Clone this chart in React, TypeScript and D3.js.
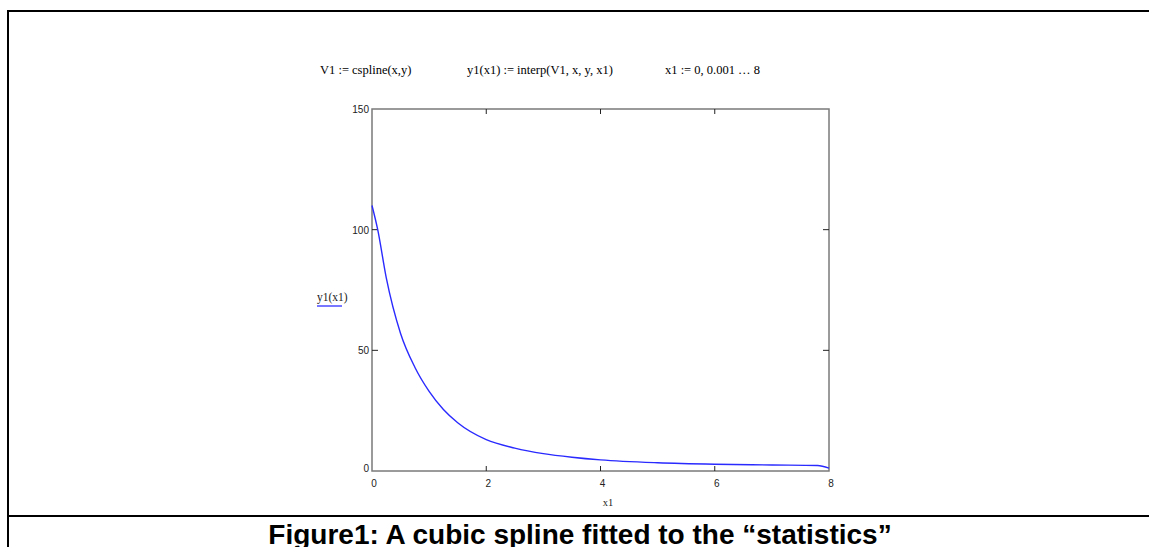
import React from "react";
import * as d3 from "d3";

// Data (spline knots)
const xValues: number[] = [0, 0.1, 0.25, 0.5, 0.75, 1, 1.25, 1.5, 2, 2.5, 3, 3.5, 4, 5, 6, 7, 7.8, 8];
const yValues: number[] = [110, 100, 80, 57, 43, 33, 25.5, 20, 13, 9.5, 7.2, 5.7, 4.6, 3.4, 2.8, 2.5, 2.3, 1.2];
const xTicks: number[] = [0, 2, 4, 6, 8];
const yTicks: number[] = [0, 50, 100, 150];
const headerTexts: string[] = ["V1 := cspline(x,y)", "y1(x1) := interp(V1, x, y, x1)", "x1 := 0, 0.001 \u2026 8"];
const headerX: number[] = [320, 467, 665];
const caption = "Figure1: A cubic spline fitted to the \u201cstatistics\u201d";

export default function App() {
  const W = 1149, H = 547;
  const left = 372, right = 829, top = 109, bottom = 471;
  const x = d3.scaleLinear().domain([0, 8]).range([left, right]);
  const y = d3.scaleLinear().domain([0, 150]).range([bottom, top]);
  const pts: [number, number][] = xValues.map((v, i) => [v, yValues[i]]);
  const line = d3
    .line<[number, number]>()
    .x((d) => x(d[0]))
    .y((d) => y(d[1]))
    .curve(d3.curveMonotoneX);
  const serif = "'Liberation Serif', 'DejaVu Serif', serif";
  const sans = "'Liberation Sans', Arial, sans-serif";
  return (
    <svg
      width={W}
      height={H}
      style={{ position: "absolute", left: 0, top: 0, background: "#fff" }}
    >
      <rect x={0} y={0} width={W} height={H} fill="#fff" />
      {/* outer frame */}
      <line x1={8} y1={11} x2={W} y2={11} stroke="#000" strokeWidth={2} />
      <line x1={8} y1={10} x2={8} y2={H} stroke="#000" strokeWidth={2} />
      <line x1={8} y1={516} x2={W} y2={516} stroke="#000" strokeWidth={2} />

      {/* header formulas */}
      {headerTexts.map((t, i) => (
        <text key={i} x={headerX[i]} y={74} fontFamily={serif} fontSize={12.5} fill="#000">
          {t}
        </text>
      ))}

      {/* plot frame */}
      <rect
        x={left}
        y={top}
        width={right - left}
        height={bottom - top}
        fill="none"
        stroke="#7a7a7a"
        strokeWidth={1.5}
      />
      {/* ticks */}
      {xTicks.slice(1, -1).map((t) => (
        <g key={"xt" + t}>
          <line x1={x(t)} x2={x(t)} y1={bottom} y2={bottom - 5} stroke="#222" strokeWidth={1} />
          <line x1={x(t)} x2={x(t)} y1={top} y2={top + 5} stroke="#222" strokeWidth={1} />
        </g>
      ))}
      {yTicks.slice(1, -1).map((t) => (
        <g key={"yt" + t}>
          <line x1={left} x2={left + 6} y1={y(t)} y2={y(t)} stroke="#222" strokeWidth={1} />
          <line x1={right} x2={right - 6} y1={y(t)} y2={y(t)} stroke="#222" strokeWidth={1} />
        </g>
      ))}
      {/* tick labels */}
      {xTicks.map((t) => (
        <text
          key={"xl" + t}
          x={x(t) + 2}
          y={bottom + 16}
          textAnchor="middle"
          fontFamily={sans}
          fontSize={10}
          fill="#222"
        >
          {t}
        </text>
      ))}
      {yTicks.map((t) => (
        <text
          key={"yl" + t}
          x={left - 3}
          y={y(t) + (t === 0 ? 1 : 4)}
          textAnchor="end"
          fontFamily={sans}
          fontSize={10}
          fill="#222"
        >
          {t}
        </text>
      ))}
      {/* axis titles */}
      <text x={608} y={506} textAnchor="middle" fontFamily={serif} fontSize={10.5} fill="#222">
        x1
      </text>
      <text x={317} y={301} fontFamily={serif} fontSize={11.5} fill="#222">
        y1(x1)
      </text>
      <line x1={317} x2={342} y1={306} y2={306} stroke="#4a4aff" strokeWidth={1.5} />

      {/* curve */}
      <path d={line(pts) || ""} fill="none" stroke="#2a2aff" strokeWidth={1.4} />

      {/* caption */}
      <text
        x={580}
        y={544}
        textAnchor="middle"
        fontFamily={sans}
        fontWeight="bold"
        fontSize={28}
        fill="#000"
      >
        {caption}
      </text>
    </svg>
  );
}
